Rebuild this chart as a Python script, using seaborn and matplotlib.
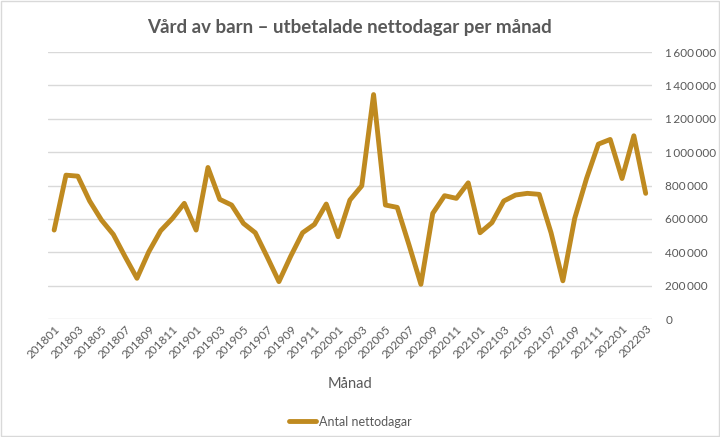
import pandas as pd
import seaborn as sns
import matplotlib.pyplot as plt
from matplotlib.ticker import FuncFormatter

# Monthly data 201801 - 202203
months = [f"{y}{m:02d}" for y in (2018, 2019, 2020, 2021) for m in range(1, 13)] + \
         ["202201", "202202", "202203"]
nettodagar = [533000, 862000, 856000, 707000, 593000, 507000, 373000, 244000, 403000, 529000,
              603000, 693000, 533000, 908000, 717000, 683000, 573000, 517000, 373000, 224000,
              377000, 517000, 567000, 689000, 493000, 713000, 798000, 1345000, 683000, 669000,
              443000, 208000, 633000, 739000, 723000, 816000, 517000, 577000, 707000, 743000,
              753000, 747000, 517000, 229000, 603000, 842000, 1048000, 1076000, 842000, 1098000,
              753000]

df = pd.DataFrame({"Månad": months, "Antal nettodagar": nettodagar})

sns.set_style("white")
plt.rcParams['font.family'] = ['Lato', 'DejaVu Sans']
grey = "#595959"

fig, ax = plt.subplots(figsize=(7.2, 4.37), dpi=100)
fig.subplots_adjust(left=0.067, right=0.905, top=0.881, bottom=0.27)

sns.lineplot(data=df, x="Månad", y="Antal nettodagar", ax=ax, color="#BF8A20",
             linewidth=3.5, sort=False, label="Antal nettodagar")

ax.set_ylim(0, 1600000)
ax.set_yticks(range(0, 1600001, 200000))
ax.yaxis.tick_right()
ax.yaxis.set_major_formatter(FuncFormatter(lambda v, p: f"{int(v):,}".replace(",", "\u2009")))
ax.grid(axis="y", color="#D9D9D9", linewidth=1)
ax.set_xlim(-0.5, len(months) - 0.5)
ax.set_xticks(range(0, len(months), 2))
ax.set_xticklabels(months[::2], rotation=45, ha="right", rotation_mode="anchor")
ax.tick_params(axis="both", colors=grey, labelsize=8.5, length=0)
ax.tick_params(axis="y", pad=10)
ax.tick_params(axis="x", pad=3)
for s in ax.spines.values():
    s.set_visible(False)

ax.set_ylabel("")
ax.set_xlabel("Månad", color=grey, fontsize=10.5, labelpad=12)
ax.set_title("Vård av barn – utbetalade nettodagar per månad", color=grey,
             fontsize=13.5, fontweight="bold", pad=14)

ax.legend(loc="upper center", bbox_to_anchor=(0.5, -0.32), frameon=False,
          fontsize=9, labelcolor=grey, handlelength=2.2, handletextpad=0.2)

fig.patches.append(plt.Rectangle((0.001, 0.002), 0.997, 0.996, transform=fig.transFigure,
                                 fill=False, edgecolor="#D9D9D9", linewidth=1))

fig.savefig("out.png", dpi=100)
